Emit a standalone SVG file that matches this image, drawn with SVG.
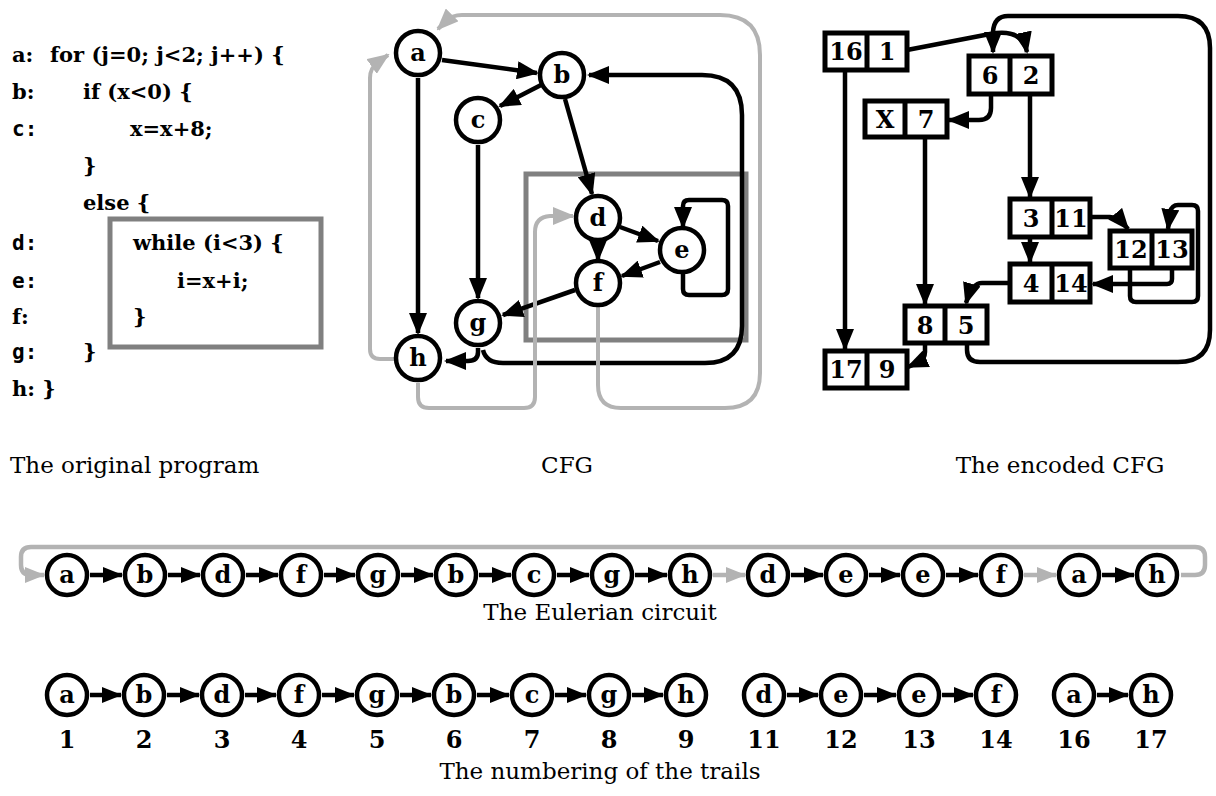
<svg xmlns="http://www.w3.org/2000/svg" width="1216" height="796" viewBox="0 0 1216 796">
<style>
.code{font-family:"DejaVu Serif","Liberation Serif",serif;font-weight:bold;font-size:21px;fill:#000}
.mono{font-family:"DejaVu Sans Mono","Liberation Mono",monospace;font-weight:bold;font-size:21px;fill:#000}
.cap{font-family:"DejaVu Serif","Liberation Serif",serif;font-size:23px;fill:#000}
.lbl{font-family:"DejaVu Serif","Liberation Serif",serif;font-weight:bold;font-size:24px;fill:#000;text-anchor:middle}
.num{font-family:"DejaVu Serif","Liberation Serif",serif;font-weight:bold;font-size:24px;fill:#000;text-anchor:middle}
.node{fill:#fff;stroke:#000;stroke-width:4.5}
.box{fill:#fff;stroke:#000;stroke-width:5}
.grp{fill:none;stroke:#808080;stroke-width:5}
.e{fill:none;stroke:#000;stroke-width:4.5;marker-end:url(#ab)}
.g{fill:none;stroke:#b3b3b3;stroke-width:4;marker-end:url(#ag)}
.r{fill:none;stroke:#000;stroke-width:4.5;marker-end:url(#ar)}
.rg{fill:none;stroke:#b3b3b3;stroke-width:4.5;marker-end:url(#arg)}
</style>
<defs>
<marker id="ab" markerUnits="userSpaceOnUse" markerWidth="22" markerHeight="18" refX="20" refY="9" orient="auto"><path d="M0,0 L22,9 L0,18 z" fill="#000"/></marker>
<marker id="ag" markerUnits="userSpaceOnUse" markerWidth="22" markerHeight="18" refX="20" refY="9" orient="auto"><path d="M0,0 L22,9 L0,18 z" fill="#b3b3b3"/></marker>
<marker id="ar" markerUnits="userSpaceOnUse" markerWidth="20" markerHeight="16" refX="19" refY="8" orient="auto"><path d="M0,0 L20,8 L0,16 z" fill="#000"/></marker>
<marker id="arg" markerUnits="userSpaceOnUse" markerWidth="20" markerHeight="16" refX="19" refY="8" orient="auto"><path d="M0,0 L20,8 L0,16 z" fill="#b3b3b3"/></marker>
</defs>
<rect width="1216" height="796" fill="#fff"/>

<g id="program">
<text class="code" x="12" y="62">a:</text><text class="code" x="50" y="62">for (j=0; j&lt;2; j++) {</text>
<text class="code" x="12" y="99">b:</text><text class="code" x="83" y="99">if (x&lt;0) {</text>
<text class="mono" x="12" y="136">c:</text><text class="code" x="130" y="136">x=x+8;</text>
<text class="code" x="83" y="173">}</text>
<text class="code" x="83" y="210">else {</text>
<text class="mono" x="12" y="250">d:</text><text class="code" x="133" y="250">while (i&lt;3) {</text>
<text class="mono" x="12" y="288">e:</text><text class="code" x="177" y="288">i=x+i;</text>
<text class="code" x="12" y="324">f:</text><text class="code" x="133" y="324">}</text>
<text class="mono" x="12" y="359">g:</text><text class="code" x="83" y="359">}</text>
<text class="code" x="12" y="396">h: }</text>
<rect class="grp" x="110" y="219" width="211" height="128"/>
</g>

<g id="captions">
<text class="cap" x="10" y="473">The original program</text>
<text class="cap" x="567" y="473" text-anchor="middle">CFG</text>
<text class="cap" x="1060" y="473" text-anchor="middle">The encoded CFG</text>
<text class="cap" x="600" y="620" text-anchor="middle">The Eulerian circuit</text>
<text class="cap" x="600" y="779" text-anchor="middle">The numbering of the trails</text>
</g>

<rect id="cfg-loop" class="grp" x="526" y="174" width="220" height="166"/>

<g id="cfg-edges">
<path class="e" d="M442,60 L537,73"/>
<path class="e" d="M543,84 L500,106"/>
<path class="e" d="M565,99 L592,194"/>
<path class="e" d="M418,78 L418,333"/>
<path class="e" d="M478,145 L478,298"/>
<path class="e" d="M620,227 L658,241"/>
<path class="e" d="M598,242 L598,260"/>
<path class="e" d="M660,262 L622,276"/>
<path class="e" d="M683,273 V289 Q683,295 689,295 H722 Q728,295 728,289 V206 Q728,200 722,200 H689 Q683,200 683,206 V227"/>
<path class="e" d="M575,290 L503,315"/>
<path class="e" d="M478,348 V352 Q478,361 468,361 H446"/>
<path class="e" d="M483,350 Q486,363 503,363 H705 Q742,363 742,326 V115 Q742,75 702,75 H589"/>
<path class="g" d="M394,359 H380 Q370,359 370,349 V78 Q370,68 378,62 L388,55"/>
<path class="g" d="M598,307 V385 Q598,408 621,408 H725 Q760,408 760,373 V55 Q760,15 720,15 H462 Q452,15 446,21 L438,29"/>
<path class="g" d="M418,383 V397 Q418,408 429,408 H524 Q535,408 535,397 V232 Q535,217 550,216 L573,216"/>
</g>

<g id="cfg-a"><circle class="node" cx="418" cy="53" r="22"/><text class="lbl" x="418" y="61">a</text></g>
<g id="cfg-b"><circle class="node" cx="562" cy="75" r="22"/><text class="lbl" x="562" y="83">b</text></g>
<g id="cfg-c"><circle class="node" cx="478" cy="120" r="22"/><text class="lbl" x="478" y="128">c</text></g>
<g id="cfg-d"><circle class="node" cx="598" cy="218" r="22"/><text class="lbl" x="598" y="226">d</text></g>
<g id="cfg-e"><circle class="node" cx="682" cy="250" r="22"/><text class="lbl" x="682" y="258">e</text></g>
<g id="cfg-f"><circle class="node" cx="598" cy="283" r="22"/><text class="lbl" x="598" y="291">f</text></g>
<g id="cfg-g"><circle class="node" cx="478" cy="323" r="22"/><text class="lbl" x="478" y="331">g</text></g>
<g id="cfg-h"><circle class="node" cx="418" cy="358" r="22"/><text class="lbl" x="418" y="366">h</text></g>

<g id="enc-edges">
<path class="e" d="M907,50 L990,34 Q1022,28 1027,52"/>
<path class="e" d="M967,343 V350 Q967,362 980,362 H1178 Q1210,362 1210,330 V48 Q1210,16 1178,16 H1008 Q994,16 993,32 V52"/>
<path class="e" d="M991,95 V108 Q991,120 979,120 H949"/>
<path class="e" d="M1030,95 V197"/>
<path class="e" d="M925,137 V304"/>
<path class="e" d="M845,70 V349"/>
<path class="e" d="M1030,237 V262"/>
<path class="e" d="M1090,217 H1110 Q1118,217 1128,229"/>
<path class="e" d="M1130,268 V296 Q1130,302 1136,302 H1192 Q1198,302 1198,296 V211 Q1198,205 1192,205 H1178 Q1172,205 1170,212 L1168,229"/>
<path class="e" d="M1172,268 V279 Q1172,284 1167,284 H1093"/>
<path class="e" d="M1008,283 H982 Q972,283 966,303"/>
<path class="e" d="M925,343 V352 Q925,360 917,363 L908,367"/>
</g>

<g id="enc-16-1"><rect class="box" x="825" y="33" width="82" height="37"/><line x1="867" y1="33" x2="867" y2="70" stroke="#000" stroke-width="5"/><text class="num" x="846" y="60">16</text><text class="num" x="887" y="60">1</text></g>
<g id="enc-6-2"><rect class="box" x="969" y="56" width="83" height="38"/><line x1="1010" y1="56" x2="1010" y2="94" stroke="#000" stroke-width="5"/><text class="num" x="990" y="84">6</text><text class="num" x="1031" y="84">2</text></g>
<g id="enc-X-7"><rect class="box" x="865" y="101" width="82" height="36"/><line x1="905" y1="101" x2="905" y2="137" stroke="#000" stroke-width="5"/><text class="num" x="885" y="128">X</text><text class="num" x="926" y="128">7</text></g>
<g id="enc-3-11"><rect class="box" x="1010" y="199" width="80" height="38"/><line x1="1052" y1="199" x2="1052" y2="237" stroke="#000" stroke-width="5"/><text class="num" x="1031" y="227">3</text><text class="num" x="1071" y="227">11</text></g>
<g id="enc-12-13"><rect class="box" x="1110" y="231" width="82" height="37"/><line x1="1152" y1="231" x2="1152" y2="268" stroke="#000" stroke-width="5"/><text class="num" x="1131" y="258">12</text><text class="num" x="1172" y="258">13</text></g>
<g id="enc-4-14"><rect class="box" x="1010" y="264" width="80" height="38"/><line x1="1052" y1="264" x2="1052" y2="302" stroke="#000" stroke-width="5"/><text class="num" x="1031" y="292">4</text><text class="num" x="1071" y="292">14</text></g>
<g id="enc-8-5"><rect class="box" x="905" y="306" width="82" height="37"/><line x1="945" y1="306" x2="945" y2="343" stroke="#000" stroke-width="5"/><text class="num" x="925" y="334">8</text><text class="num" x="966" y="334">5</text></g>
<g id="enc-17-9"><rect class="box" x="825" y="351" width="82" height="37"/><line x1="867" y1="351" x2="867" y2="388" stroke="#000" stroke-width="5"/><text class="num" x="846" y="378">17</text><text class="num" x="887" y="378">9</text></g>

<g id="circuit-edges">
<path class="rg" d="M1181,575 H1195 Q1205,575 1205,565 V557 Q1205,547 1195,547 H31 Q21,547 21,557 V565 Q21,575 31,575 H44"/>
<path class="r" d="M90,575 H122"/>
<path class="r" d="M168,575 H200"/>
<path class="r" d="M246,575 H278"/>
<path class="r" d="M324,575 H355"/>
<path class="r" d="M401,575 H433"/>
<path class="r" d="M479,575 H511"/>
<path class="r" d="M557,575 H589"/>
<path class="r" d="M635,575 H667"/>
<path class="rg" d="M713,575 H745"/>
<path class="r" d="M791,575 H823"/>
<path class="r" d="M869,575 H900"/>
<path class="r" d="M946,575 H978"/>
<path class="rg" d="M1024,575 H1056"/>
<path class="r" d="M1102,575 H1134"/>
</g>

<g id="c1"><circle class="node" cx="67" cy="575" r="20"/><text class="lbl" x="67" y="583">a</text></g>
<g id="c2"><circle class="node" cx="145" cy="575" r="20"/><text class="lbl" x="145" y="583">b</text></g>
<g id="c3"><circle class="node" cx="223" cy="575" r="20"/><text class="lbl" x="223" y="583">d</text></g>
<g id="c4"><circle class="node" cx="301" cy="575" r="20"/><text class="lbl" x="301" y="583">f</text></g>
<g id="c5"><circle class="node" cx="378" cy="575" r="20"/><text class="lbl" x="378" y="583">g</text></g>
<g id="c6"><circle class="node" cx="456" cy="575" r="20"/><text class="lbl" x="456" y="583">b</text></g>
<g id="c7"><circle class="node" cx="534" cy="575" r="20"/><text class="lbl" x="534" y="583">c</text></g>
<g id="c8"><circle class="node" cx="612" cy="575" r="20"/><text class="lbl" x="612" y="583">g</text></g>
<g id="c9"><circle class="node" cx="690" cy="575" r="20"/><text class="lbl" x="690" y="583">h</text></g>
<g id="c10"><circle class="node" cx="768" cy="575" r="20"/><text class="lbl" x="768" y="583">d</text></g>
<g id="c11"><circle class="node" cx="846" cy="575" r="20"/><text class="lbl" x="846" y="583">e</text></g>
<g id="c12"><circle class="node" cx="923" cy="575" r="20"/><text class="lbl" x="923" y="583">e</text></g>
<g id="c13"><circle class="node" cx="1001" cy="575" r="20"/><text class="lbl" x="1001" y="583">f</text></g>
<g id="c14"><circle class="node" cx="1079" cy="575" r="20"/><text class="lbl" x="1079" y="583">a</text></g>
<g id="c15"><circle class="node" cx="1157" cy="575" r="20"/><text class="lbl" x="1157" y="583">h</text></g>

<g id="trail-edges">
<path class="r" d="M90,695 H121"/>
<path class="r" d="M167,695 H199"/>
<path class="r" d="M245,695 H276"/>
<path class="r" d="M322,695 H354"/>
<path class="r" d="M400,695 H431"/>
<path class="r" d="M477,695 H509"/>
<path class="r" d="M555,695 H586"/>
<path class="r" d="M632,695 H663"/>
<path class="r" d="M787,695 H818"/>
<path class="r" d="M864,695 H896"/>
<path class="r" d="M942,695 H973"/>
<path class="r" d="M1097,695 H1128"/>
</g>

<g id="t1"><circle class="node" cx="67" cy="695" r="20"/><text class="lbl" x="67" y="703">a</text><text class="num" x="67" y="748">1</text></g>
<g id="t2"><circle class="node" cx="144" cy="695" r="20"/><text class="lbl" x="144" y="703">b</text><text class="num" x="144" y="748">2</text></g>
<g id="t3"><circle class="node" cx="222" cy="695" r="20"/><text class="lbl" x="222" y="703">d</text><text class="num" x="222" y="748">3</text></g>
<g id="t4"><circle class="node" cx="299" cy="695" r="20"/><text class="lbl" x="299" y="703">f</text><text class="num" x="299" y="748">4</text></g>
<g id="t5"><circle class="node" cx="377" cy="695" r="20"/><text class="lbl" x="377" y="703">g</text><text class="num" x="377" y="748">5</text></g>
<g id="t6"><circle class="node" cx="454" cy="695" r="20"/><text class="lbl" x="454" y="703">b</text><text class="num" x="454" y="748">6</text></g>
<g id="t7"><circle class="node" cx="532" cy="695" r="20"/><text class="lbl" x="532" y="703">c</text><text class="num" x="532" y="748">7</text></g>
<g id="t8"><circle class="node" cx="609" cy="695" r="20"/><text class="lbl" x="609" y="703">g</text><text class="num" x="609" y="748">8</text></g>
<g id="t9"><circle class="node" cx="686" cy="695" r="20"/><text class="lbl" x="686" y="703">h</text><text class="num" x="686" y="748">9</text></g>
<g id="t11"><circle class="node" cx="764" cy="695" r="20"/><text class="lbl" x="764" y="703">d</text><text class="num" x="764" y="748">11</text></g>
<g id="t12"><circle class="node" cx="841" cy="695" r="20"/><text class="lbl" x="841" y="703">e</text><text class="num" x="841" y="748">12</text></g>
<g id="t13"><circle class="node" cx="919" cy="695" r="20"/><text class="lbl" x="919" y="703">e</text><text class="num" x="919" y="748">13</text></g>
<g id="t14"><circle class="node" cx="996" cy="695" r="20"/><text class="lbl" x="996" y="703">f</text><text class="num" x="996" y="748">14</text></g>
<g id="t16"><circle class="node" cx="1074" cy="695" r="20"/><text class="lbl" x="1074" y="703">a</text><text class="num" x="1074" y="748">16</text></g>
<g id="t17"><circle class="node" cx="1151" cy="695" r="20"/><text class="lbl" x="1151" y="703">h</text><text class="num" x="1151" y="748">17</text></g>
</svg>
